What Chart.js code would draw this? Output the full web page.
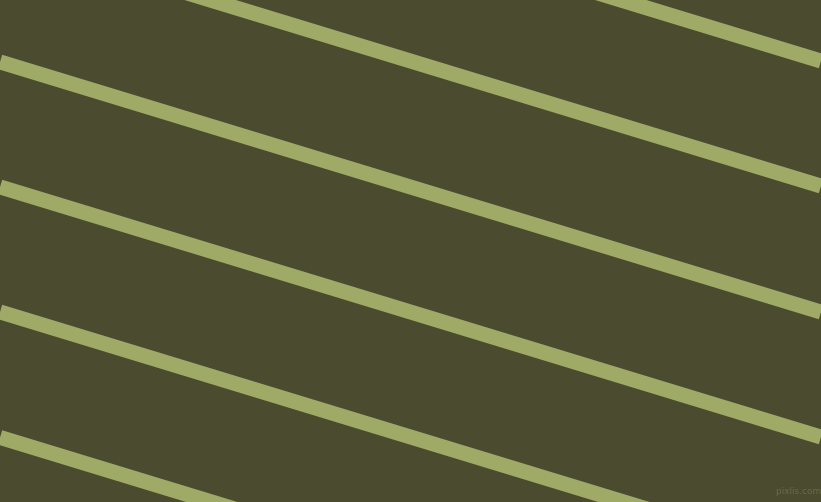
<!DOCTYPE html>
<html>
<head>
<meta charset="utf-8">
<script src="https://cdn.jsdelivr.net/npm/chart.js@4.4.0/dist/chart.umd.min.js"></script>
<style>
  html, body { margin: 0; padding: 0; background: #4b4b30; overflow: hidden; }
  #wrap { position: relative; width: 821px; height: 502px; }
  canvas { display: block; }
  #mark { position: absolute; left: 776px; top: 486px; font: 9px "DejaVu Sans", sans-serif; color: #6a6b44; white-space: nowrap; }
</style>
</head>
<body>
<div id="wrap">
  <canvas id="c" width="821" height="502"></canvas>
  <div id="mark">pixlis.com</div>
</div>
<script>
// x positions where each stripe is sampled (left and right edge)
const xValues = [0, 821];
// y value of each stripe at x = 0 and x = 821
const stripe1 = [-189, 61];
const stripe2 = [-64, 186];
const stripe3 = [62, 312];
const stripe4 = [187, 437];
const stripe5 = [312, 562];
const stripe6 = [437.5, 687.5];
const stripes = [stripe1, stripe2, stripe3, stripe4, stripe5, stripe6];

const datasets = stripes.map((s, i) => ({
  label: 'stripe ' + (i + 1),
  data: xValues.map((x, j) => ({ x: x, y: s[j] })),
  borderColor: '#9eaa66',
  borderWidth: 15,
  borderCapStyle: 'butt',
  pointRadius: 0,
  showLine: true,
  fill: false,
  clip: false
}));

new Chart(document.getElementById('c'), {
  type: 'scatter',
  data: { datasets: datasets },
  options: {
    responsive: false,
    animation: false,
    layout: { padding: 0 },
    plugins: { legend: { display: false }, tooltip: { enabled: false } },
    scales: {
      x: { type: 'linear', min: 0, max: 821, display: false },
      y: { type: 'linear', min: 0, max: 502, reverse: true, display: false }
    }
  }
});
</script>
</body>
</html>
